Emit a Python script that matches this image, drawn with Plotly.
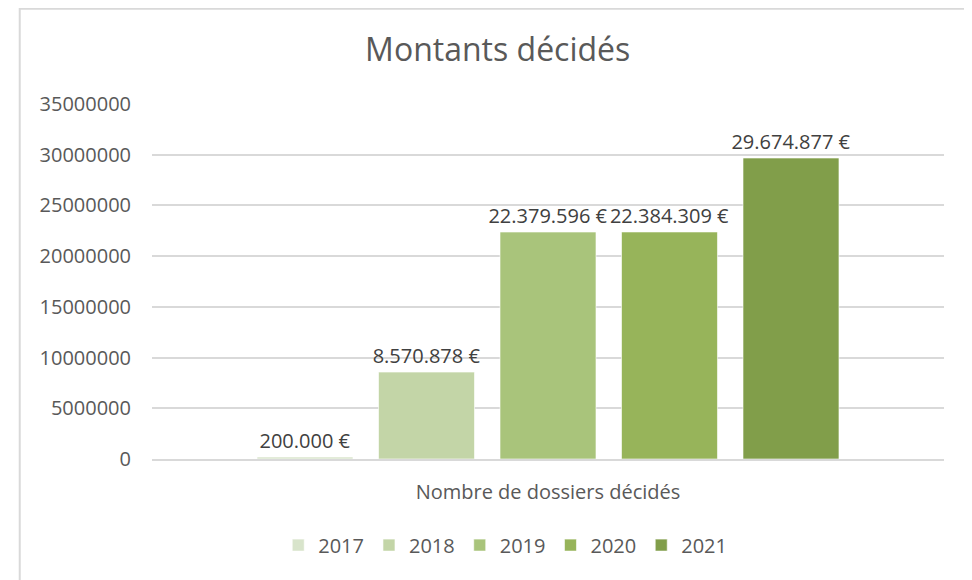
import plotly.graph_objects as go

# chart data
category = ["Nombre de dossiers décidés"]
years = ["2017", "2018", "2019", "2020", "2021"]
amounts = [200000, 8570878, 22379596, 22384309, 29674877]
colors = ["#d8e4cb", "#c3d5a7", "#a9c47b", "#97b45a", "#819e4a"]

y_ticks = [0, 5000000, 10000000, 15000000, 20000000, 25000000, 30000000, 35000000]

font_family = "Open Sans, Noto Sans, sans-serif"
grey = "#595959"


def euro(v):
    return f"{v:,}".replace(",", ".") + "\u00a0€"


fig = go.Figure()
for year, amount, color in zip(years, amounts, colors):
    fig.add_trace(go.Bar(
        x=category,
        y=[amount],
        name=year,
        marker=dict(color=color, line=dict(color="rgba(255,255,255,0.6)", width=1)),
        text=[euro(amount)],
        textposition="outside",
        constraintext="none",
        cliponaxis=False,
        textfont=dict(size=20, color="#404040", family=font_family),
    ))

# the page body adds an 8px margin, so the figure is a bit smaller than the window
fig.update_layout(
    width=964,
    height=572,
    barmode="group",
    bargap=0.233,
    bargroupgap=0.21,
    plot_bgcolor="white",
    paper_bgcolor="white",
    margin=dict(l=144, r=28, t=96, b=121),
    title=dict(
        text="Montants décidés",
        x=0.508,
        xanchor="center",
        y=0.927,
        yanchor="middle",
        font=dict(size=32, color=grey, family=font_family),
    ),
    font=dict(family=font_family, color=grey),
    showlegend=True,
    legend=dict(
        orientation="h",
        xref="paper",
        x=0.446,
        xanchor="center",
        yref="container",
        y=0.061,
        yanchor="middle",
        font=dict(size=20, color=grey),
        itemwidth=30,
        tracegroupgap=0,
    ),
    xaxis=dict(
        showgrid=False,
        showline=True,
        linecolor="#d9d9d9",
        linewidth=2,
        ticks="",
        ticklabelstandoff=14,
        tickfont=dict(size=20, color=grey),
    ),
    yaxis=dict(
        range=[0, 35000000],
        tickvals=y_ticks,
        tickformat="d",
        showgrid=True,
        gridcolor="#d9d9d9",
        gridwidth=2,
        zeroline=False,
        showline=False,
        ticks="",
        ticklabelstandoff=20,
        tickfont=dict(size=20, color=grey),
    ),
    shapes=[
        dict(
            type="rect",
            xref="paper",
            yref="paper",
            x0=-0.167,
            x1=1.1,
            y0=-0.4,
            y1=1.268,
            line=dict(color="#d9d9d9", width=2),
            fillcolor="rgba(0,0,0,0)",
            layer="below",
        )
    ],
)

fig.write_html("out.html")
